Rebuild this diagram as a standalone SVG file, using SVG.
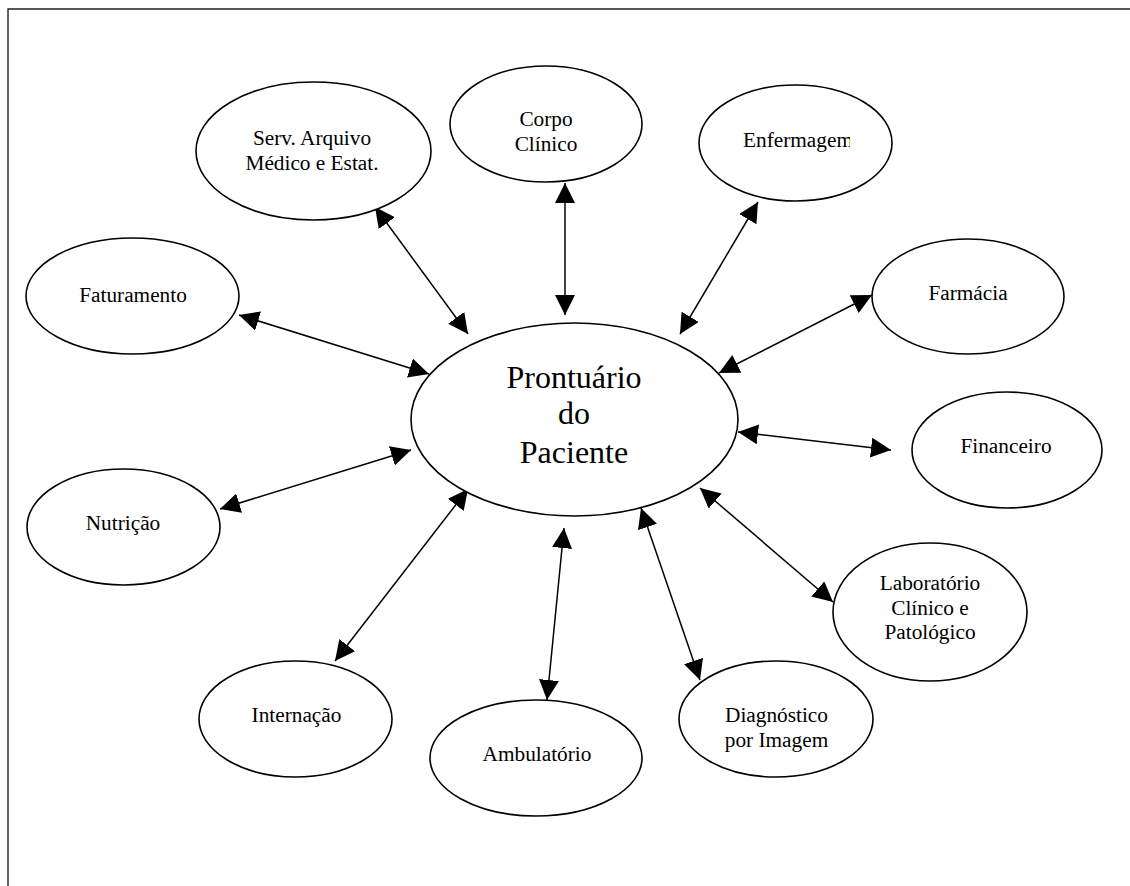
<svg xmlns="http://www.w3.org/2000/svg" width="1130" height="886" viewBox="0 0 1130 886">
  <style>
    .node ellipse { fill: #fff; stroke: #000; stroke-width: 1.6; }
    .node text { font-family: "Liberation Serif", "Times New Roman", serif; font-size: 21.3px; fill: #000; text-anchor: middle; }
    .node text.big { font-size: 32px; }
    .links line { stroke: #000; stroke-width: 1.5; marker-start: url(#head); marker-end: url(#head); }
    .frame { stroke: #222; stroke-width: 1.4; fill: none; }
  </style>
  <defs>
    <marker id="head" viewBox="0 0 20 20" refX="20" refY="10" markerWidth="20" markerHeight="20" markerUnits="userSpaceOnUse" orient="auto-start-reverse">
      <path d="M0,0 L20,10 L0,20 z" fill="#000"/>
    </marker>
    <clipPath id="enf-clip">
      <rect x="700" y="120" width="150" height="40"/>
    </clipPath>
  </defs>

  <rect width="1130" height="886" fill="#fff"/>
  <!-- page frame: top and left edges -->
  <path class="frame" d="M8,886 V9 H1130"/>

  <g class="links">
    <line x1="375" y1="207" x2="468" y2="334"/>
    <line x1="565" y1="183" x2="565" y2="315"/>
    <line x1="758" y1="202" x2="680" y2="334"/>
    <line x1="872" y1="295" x2="719" y2="373"/>
    <line x1="738" y1="432" x2="891" y2="450"/>
    <line x1="700" y1="488" x2="833" y2="602"/>
    <line x1="641" y1="508" x2="700" y2="680"/>
    <line x1="564" y1="528" x2="547" y2="700"/>
    <line x1="468" y1="489" x2="335" y2="661"/>
    <line x1="411" y1="450" x2="220" y2="509"/>
    <line x1="429" y1="374" x2="239" y2="315"/>
  </g>

  <g id="prontuario" class="node">
    <ellipse cx="574.5" cy="419.5" rx="163.5" ry="96.5"/>
    <text class="big" x="574" y="388">Prontuário</text>
    <text class="big" x="574" y="424">do</text>
    <text class="big" x="574" y="463">Paciente</text>
  </g>

  <g id="serv-arquivo" class="node">
    <ellipse cx="313.5" cy="151" rx="117.5" ry="69"/>
    <text x="312" y="145">Serv. Arquivo</text>
    <text x="312" y="170">Médico e Estat.</text>
  </g>

  <g id="corpo-clinico" class="node">
    <ellipse cx="546" cy="124" rx="96" ry="58"/>
    <text x="546" y="126">Corpo</text>
    <text x="546" y="151">Clínico</text>
  </g>

  <g id="enfermagem" class="node">
    <ellipse cx="795.5" cy="143" rx="96.5" ry="58"/>
    <text x="743" y="147" clip-path="url(#enf-clip)" style="text-anchor:start">Enfermagem</text>
  </g>

  <g id="farmacia" class="node">
    <ellipse cx="968" cy="296.5" rx="96" ry="57.5"/>
    <text x="968" y="300">Farmácia</text>
  </g>

  <g id="financeiro" class="node">
    <ellipse cx="1007" cy="450" rx="95" ry="58"/>
    <text x="1006" y="453">Financeiro</text>
  </g>

  <g id="laboratorio" class="node">
    <ellipse cx="930" cy="612" rx="97" ry="69"/>
    <text x="930" y="590">Laboratório</text>
    <text x="930" y="615">Clínico e</text>
    <text x="930" y="639">Patológico</text>
  </g>

  <g id="diagnostico" class="node">
    <ellipse cx="776" cy="719" rx="97" ry="58"/>
    <text x="776.5" y="722">Diagnóstico</text>
    <text x="776.5" y="747">por Imagem</text>
  </g>

  <g id="ambulatorio" class="node">
    <ellipse cx="536" cy="758" rx="106" ry="58"/>
    <text x="537" y="761">Ambulatório</text>
  </g>

  <g id="internacao" class="node">
    <ellipse cx="295.5" cy="719" rx="96.5" ry="58"/>
    <text x="296.5" y="722">Internação</text>
  </g>

  <g id="nutricao" class="node">
    <ellipse cx="123.5" cy="527" rx="96.5" ry="58"/>
    <text x="123" y="530">Nutrição</text>
  </g>

  <g id="faturamento" class="node">
    <ellipse cx="132.5" cy="296" rx="106.5" ry="58"/>
    <text x="133" y="302">Faturamento</text>
  </g>
</svg>
